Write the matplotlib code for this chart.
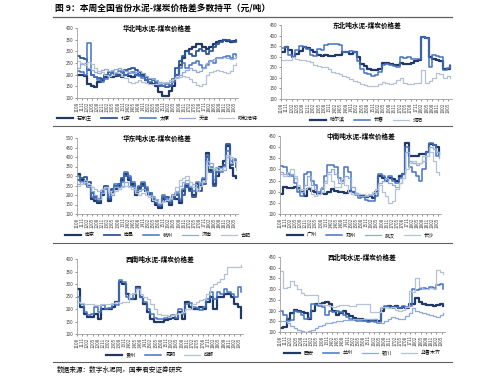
import matplotlib
matplotlib.use("Agg")
import matplotlib.pyplot as plt

plt.rcParams['font.family'] = ['Noto Sans CJK SC', 'DejaVu Sans']

W, H = 499, 381

# x positions: months since 2011-08, one value every 2 months
MONTHS = list(range(0, 95, 2))
TICK_POS = list(range(0, 94, 3))
TICK_LABELS = ["1108", "1111", "1202", "1205", "1208", "1211", "1302", "1305",
               "1308", "1311", "1402", "1405", "1408", "1411", "1502", "1505",
               "1508", "1511", "1602", "1605", "1608", "1611", "1702", "1705",
               "1708", "1711", "1802", "1805", "1808", "1811", "1902", "1905"]

# 华北
shijiazhuang = [200, 200, 195, 160, 150, 145, 170, 175, 190, 195, 190, 195, 200, 190, 200, 195,
                190, 200, 210, 200, 175, 165, 160, 150, 125, 110, 110, 130, 150, 200, 240, 270,
                300, 310, 320, 330, 330, 320, 310, 320, 330, 340, 345, 350, 345, 340, 345, 345]
beijing = [280, 270, 265, 220, 200, 190, 185, 180, 200, 210, 205, 200, 195, 205, 220, 225,
           230, 220, 200, 195, 190, 180, 175, 165, 150, 150, 145, 150, 180, 230, 260, 280,
           300, 290, 280, 300, 310, 300, 290, 300, 320, 330, 340, 350, 350, 345, 340, 350]
taiyuan = [215, 210, 200, 335, 200, 190, 175, 170, 180, 200, 210, 205, 215, 210, 200, 205,
           210, 200, 195, 185, 175, 170, 180, 170, 160, 150, 160, 155, 170, 200, 230, 250,
           230, 240, 250, 260, 240, 230, 240, 260, 250, 270, 270, 275, 280, 270, 290, 280]
tianjin = [230, 245, 250, 230, 220, 210, 205, 220, 225, 215, 220, 225, 230, 220, 215, 210,
           205, 210, 215, 205, 195, 185, 180, 175, 170, 165, 165, 170, 180, 190, 200, 210,
           220, 230, 220, 210, 215, 230, 250, 260, 265, 270, 270, 275, 270, 265, 270, 275]
huhehaote = [260, 250, 240, 255, 245, 230, 215, 210, 200, 195, 200, 210, 205, 195, 185, 170,
             165, 170, 175, 170, 165, 160, 160, 160, 165, 170, 170, 175, 180, 185, 190, 195,
             190, 180, 170, 155, 150, 160, 200, 210, 215, 220, 215, 210, 205, 215, 240, 250]

# 东北
haerbin = [320, 345, 330, 300, 315, 325, 345, 340, 330, 320, 310, 305, 310, 305, 305, 310,
           310, 320, 320, 315, 320, 300, 265, 255, 240, 235, 235, 240, 270, 270, 265, 260,
           260, 270, 265, 265, 270, 280, 285, 395, 390, 300, 290, 285, 280, 240, 240, 255]
changchun = [340, 345, 310, 300, 330, 350, 345, 335, 310, 305, 335, 330, 355, 360, 360, 360,
             355, 320, 320, 325, 320, 280, 240, 225, 220, 210, 215, 230, 260, 265, 260, 255,
             250, 300, 295, 300, 290, 290, 290, 395, 390, 250, 310, 305, 300, 235, 245, 260]
shenyang = [285, 285, 285, 300, 290, 285, 285, 280, 275, 260, 255, 250, 250, 240, 230, 225,
            220, 210, 205, 195, 185, 180, 170, 165, 160, 160, 160, 170, 180, 175, 170, 175,
            190, 200, 175, 170, 170, 175, 175, 235, 175, 185, 200, 225, 220, 200, 210, 200]

# 华东
nanjing = [310, 280, 270, 250, 180, 170, 160, 200, 240, 170, 210, 230, 250, 280, 310, 280,
           260, 200, 240, 260, 220, 200, 170, 150, 130, 180, 170, 150, 190, 180, 160, 220,
           250, 230, 200, 260, 250, 280, 420, 330, 260, 300, 350, 380, 460, 340, 300, 290]
nanchang = [280, 290, 295, 270, 210, 190, 170, 220, 250, 180, 230, 250, 260, 290, 300, 290,
            250, 210, 230, 250, 230, 210, 180, 160, 140, 190, 190, 160, 180, 200, 170, 200,
            240, 220, 190, 240, 220, 260, 400, 320, 250, 320, 340, 360, 470, 360, 380, 350]
hangzhou = [300, 270, 260, 240, 190, 180, 180, 210, 230, 190, 220, 260, 240, 270, 320, 300,
            270, 220, 250, 270, 240, 210, 190, 170, 150, 200, 180, 170, 200, 210, 180, 230,
            260, 240, 220, 270, 260, 290, 410, 350, 280, 340, 320, 350, 430, 380, 390, 360]
jinan = [260, 270, 280, 250, 220, 200, 180, 210, 240, 210, 200, 240, 230, 250, 270, 250,
         240, 220, 220, 230, 220, 200, 190, 180, 160, 170, 175, 180, 200, 220, 250, 270,
         280, 250, 260, 220, 270, 280, 380, 370, 330, 350, 340, 330, 400, 370, 380, 370]
hefei = [250, 260, 270, 260, 240, 230, 220, 230, 240, 220, 210, 220, 230, 240, 250, 240,
         230, 210, 200, 210, 200, 190, 175, 170, 160, 165, 175, 185, 200, 240, 280, 290,
         300, 270, 240, 230, 250, 270, 360, 340, 340, 330, 330, 350, 410, 400, 380, 330]

# 中南
guangzhou = [190, 220, 215, 215, 220, 215, 200, 180, 210, 205, 200, 190, 195, 190, 200, 210,
             205, 200, 200, 195, 205, 200, 190, 185, 180, 175, 180, 170, 200, 270, 260, 250,
             260, 255, 250, 270, 280, 420, 360, 360, 360, 370, 370, 380, 415, 410, 400, 370]
zhengzhou = [315, 310, 280, 270, 240, 200, 180, 280, 290, 250, 230, 200, 210, 270, 320, 320,
             310, 260, 250, 310, 290, 200, 185, 170, 175, 165, 160, 160, 180, 280, 270, 250,
             270, 250, 240, 260, 280, 400, 310, 290, 270, 250, 300, 380, 420, 410, 360, 380]
wuhan = [290, 280, 270, 280, 260, 210, 200, 230, 270, 230, 210, 190, 220, 250, 290, 300,
         280, 240, 240, 270, 260, 220, 195, 180, 180, 180, 185, 190, 200, 240, 250, 260,
         240, 230, 220, 240, 260, 380, 340, 330, 320, 330, 340, 360, 400, 390, 380, 350]
changsha = [280, 270, 290, 300, 270, 230, 210, 210, 220, 190, 180, 190, 200, 240, 280, 250,
            220, 220, 260, 230, 200, 190, 190, 190, 190, 185, 190, 200, 210, 230, 200, 180,
            150, 160, 210, 240, 260, 300, 330, 340, 330, 330, 360, 360, 380, 340, 290, 275]

# 西南
guiyang = [280, 210, 180, 170, 170, 180, 160, 200, 200, 200, 210, 230, 310, 300, 260, 240,
           240, 290, 250, 220, 190, 160, 150, 150, 150, 155, 160, 165, 160, 190, 160, 230,
           210, 200, 200, 210, 200, 230, 250, 200, 250, 250, 260, 260, 250, 220, 210, 165]
kunming = [250, 220, 190, 175, 180, 210, 190, 215, 200, 205, 220, 215, 315, 310, 250, 240,
           260, 285, 250, 230, 200, 180, 165, 160, 160, 165, 170, 175, 165, 200, 180, 220,
           225, 210, 205, 195, 210, 240, 270, 240, 270, 260, 280, 270, 260, 250, 290, 270]
chengdu = [230, 225, 220, 220, 220, 215, 215, 220, 220, 220, 225, 230, 225, 230, 230, 260,
           265, 280, 260, 250, 240, 220, 200, 180, 175, 175, 170, 175, 180, 185, 190, 200,
           200, 220, 230, 235, 240, 260, 290, 300, 310, 320, 340, 370, 370, 370, 370, 375]

# 西北
xian = [120, 125, 160, 190, 205, 200, 195, 190, 160, 200, 230, 230, 235, 240, 230, 200,
        180, 190, 200, 185, 175, 165, 160, 160, 155, 150, 150, 155, 150, 200, 215, 220,
        215, 220, 210, 215, 210, 230, 230, 260, 240, 230, 225, 225, 220, 225, 230, 220]
lanzhou = [200, 180, 150, 155, 200, 195, 180, 160, 165, 230, 225, 220, 215, 180, 200, 195,
           200, 195, 180, 170, 160, 155, 150, 150, 150, 145, 150, 145, 140, 210, 220, 215,
           210, 215, 210, 220, 215, 220, 300, 295, 300, 305, 300, 310, 305, 320, 325, 300]
yinchuan = [150, 150, 140, 130, 120, 110, 105, 100, 105, 110, 120, 130, 135, 140, 140, 145,
            150, 150, 155, 155, 158, 160, 160, 160, 160, 160, 160, 160, 145, 140, 150, 160,
            170, 165, 160, 160, 175, 190, 210, 200, 195, 190, 185, 180, 175, 170, 180, 190]
wulumuqi = [385, 305, 310, 340, 320, 300, 280, 275, 275, 275, 275, 230, 225, 225, 220, 215,
            220, 225, 225, 225, 220, 220, 230, 230, 230, 230, 195, 195, 195, 215, 215, 210,
            215, 205, 200, 205, 215, 290, 285, 350, 310, 300, 300, 305, 300, 390, 380, 370]

COLORS = ['#1f3864', '#2f5597', '#4472c4', '#8faadc', '#b4c2d6']
WIDTHS = [1.6, 1.3, 1.1, 0.9, 0.9]

# (title, ylim top, names, series, axes box in px: left, top, right, bottom)
panels = [
    ("华北吨水泥-煤炭价格差", 400, ["石家庄", "北京", "太原", "天津", "呼和浩特"],
     [shijiazhuang, beijing, taiyuan, tianjin, huhehaote], (77, 28, 238, 98)),
    ("东北吨水泥-煤炭价格差", 450, ["哈尔滨", "长春", "沈阳"],
     [haerbin, changchun, shenyang], (281, 25, 452, 99)),
    ("华东吨水泥-煤炭价格差", 500, ["南京", "南昌", "杭州", "济南", "合肥"],
     [nanjing, nanchang, hangzhou, jinan, hefei], (77, 138, 238, 214)),
    ("中南吨水泥-煤炭价格差", 450, ["广州", "郑州", "武汉", "长沙"],
     [guangzhou, zhengzhou, wuhan, changsha], (280, 136, 441, 214)),
    ("西南吨水泥-煤炭价格差", 400, ["贵州", "昆明", "成都"],
     [guiyang, kunming, chengdu], (77, 259, 243, 334)),
    ("西北吨水泥-煤炭价格差", 450, ["西安", "兰州", "银川", "乌鲁木齐"],
     [xian, lanzhou, yinchuan, wulumuqi], (280, 257, 445, 332)),
]

fig = plt.figure(figsize=(W / 100, H / 100), dpi=100)

for title, ytop, names, series, (l, t, r, b) in panels:
    ax = fig.add_axes([l / W, 1 - b / H, (r - l) / W, (b - t) / H])
    n = len(series)
    if n == 5:
        idx = [0, 1, 2, 3, 4]
    elif n == 4:
        idx = [0, 2, 3, 4]
    else:
        idx = [0, 2, 4]
    for s, name, i in zip(series, names, idx):
        ax.plot(MONTHS, s, color=COLORS[i], lw=WIDTHS[i], drawstyle='steps-post', label=name)
    ax.set_xlim(0, 95)
    ax.set_ylim(100, ytop)
    ax.set_yticks(range(100, ytop + 1, 50))
    ax.set_xticks(TICK_POS)
    ax.set_xticklabels(TICK_LABELS, rotation=90)
    ax.tick_params(labelsize=3.3, length=1.5, width=0.4, pad=1, colors='#404040')
    for sp in ['top', 'right']:
        ax.spines[sp].set_visible(False)
    for sp in ['left', 'bottom']:
        ax.spines[sp].set_color('#a0a0a0')
        ax.spines[sp].set_linewidth(0.6)
    ax.text(0.5, 0.99, title, transform=ax.transAxes, ha='center', va='center',
            fontsize=4.8, fontweight='bold', style='italic')
    ax.legend(loc='upper center', bbox_to_anchor=(0.5, -0.21), ncol=n, frameon=False,
              fontsize=3.6, handlelength=3.2, handletextpad=0.8, columnspacing=1.8,
              borderpad=0)

# title, separators, source
fig.text(55 / W, 1 - 9 / H, "图 9：本周全国省份水泥-煤炭价格差多数持平（元/吨）",
         fontsize=6.3, fontweight='bold', va='center', ha='left')
for y in [17, 126, 243, 362]:
    fig.add_artist(plt.Line2D([53 / W, 452 / W], [1 - y / H, 1 - y / H],
                              color='#606060', lw=0.9 if y == 17 else 0.8))
fig.text(57 / W, 1 - 370 / H, "数据来源：数字水泥网，国泰君安证券研究",
         fontsize=4.8, va='center', ha='left')

fig.savefig("out.png", dpi=100)
